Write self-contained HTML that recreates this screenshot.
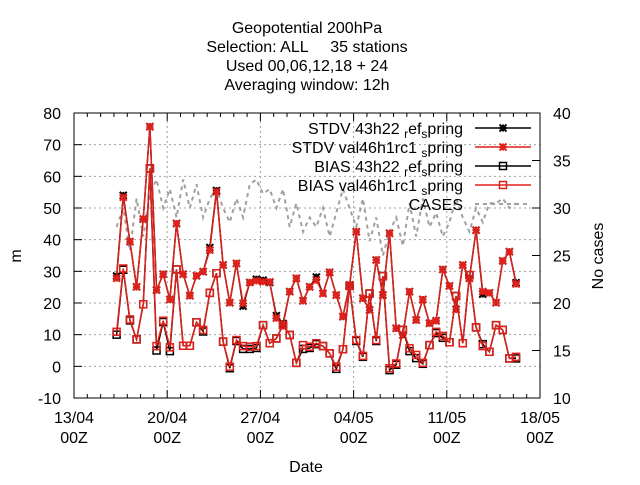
<!DOCTYPE html>
<html><head><meta charset="utf-8"><style>
body{margin:0;background:#fff}
svg text{font-family:"Liberation Sans",sans-serif;font-size:16px;fill:#000}
</style></head><body>
<svg id="chart" width="640" height="480" xmlns="http://www.w3.org/2000/svg">
<g id="grid"></g>
<g id="axes"></g>
<g id="series"></g>
<g id="legend"></g>
<text x="307" y="33" text-anchor="middle">Geopotential 200hPa</text>
<text x="307" y="52" text-anchor="middle" xml:space="preserve">Selection: ALL     35 stations</text>
<text x="307" y="71" text-anchor="middle">Used  00,06,12,18  + 24</text>
<text x="307" y="90" text-anchor="middle">Averaging window: 12h</text>
<text transform="translate(21,256) rotate(-90)" text-anchor="middle">m</text>
<text transform="translate(603,256) rotate(-90)" text-anchor="middle">No cases</text>
<text x="306" y="472" text-anchor="middle">Date</text>
</svg>
<script>
const xTickLabels=["13/04","20/04","27/04","04/05","11/05","18/05"];
const yTicks=[-10,0,10,20,30,40,50,60,70,80];
const y2Ticks=[10,15,20,25,30,35,40];
const tStart=3.2, tStep=0.5;
const stdvB=[28.5,54,39.4,25.1,46.5,75.7,24.1,29.1,21.1,45.1,29.1,22.3,28.6,29.9,37.5,55.5,32,20.1,32.5,19,26.5,27.5,27.2,26.5,16,13.5,23.6,27.8,20.7,25.1,28.2,23,29.7,22.5,15.7,25.7,42.5,21.5,17.8,33.6,22.5,42,12,9.9,23.6,14.6,21.1,13.6,14.4,30.6,25.4,18,32,27.8,43,22.8,23.2,20.1,33.3,36.2,26.4];
const stdvR=[27.8,53.4,39.4,25.1,46.5,75.7,24.1,29.1,21.1,45.1,29.1,22.3,28.6,29.9,36.7,55.1,32,20.1,32.5,19.9,26.5,27,26.7,26.7,15.2,13,23.6,27.8,20.7,25.1,27.2,23,29.7,22.5,15.7,25.7,42.5,21.5,17.8,33.6,22.5,42,12,9.9,23.6,14.6,21.1,13.6,14.4,30.6,25.4,18,32,27.8,43,23.6,23.2,20.1,33.3,36.2,26];
const biasB=[10,30.5,14.5,8.5,19.6,62.5,5,14,4.8,30.6,6.5,6.5,13.9,11,23.2,29.4,7.8,-0.6,8,5.5,5.5,5.8,13,7.3,8.8,13,9.9,1.1,5.5,5.8,7,6.4,4.1,-0.8,5.4,25.4,8,3,23,8,28.5,-1.2,0.5,11.5,4.8,2.6,0.8,6.7,10.5,9,7.6,22.2,7.3,28.8,12.3,7,4.6,13,11.5,2.5,2.5];
const biasR=[10.9,30.9,14.8,8.5,19.6,62.5,6.4,14.4,6,30.6,6.5,6.5,13.9,11.5,23.2,29.4,7.8,-0.1,8.3,6.4,6.2,6.4,13,7.3,8.8,13,9.9,1.1,6.7,6.2,7.3,6.4,4.1,-0.1,5.4,25.4,8.3,3.3,23,8.3,28.5,-0.6,0.9,11.5,5.7,3.6,1.1,6.7,10.9,9.6,7.6,22.2,7.3,28.8,12.3,6.4,4.6,13,11.5,2.5,3];
const cases=[28,30,25.5,31,27,31.5,33,30,32,29,33,30,32.5,29,31,32,30,28.5,31,29,32.5,33,31.5,32,30,32,28,30.5,27.5,29,28,30,27,29.5,32,30,28,31,26.5,29,25,27.5,29,26,30.5,27,31,28,29.5,27,28.5,31,29,27.5,30,28.5,30.5,30.5,31,30,30.5];
const X0=74,X1=540,Y0=398,Y1=113;
const xs=d=>X0+(X1-X0)*d/35;
const ys=v=>Y0-(Y0-Y1)*(v+10)/90;
const y2s=v=>Y0-(Y0-Y1)*(v-10)/30;
const NS="http://www.w3.org/2000/svg";
function mk(tag,attrs,parent){const e=document.createElementNS(NS,tag);for(const k in attrs)e.setAttribute(k,attrs[k]);parent.appendChild(e);return e;}
const grid=document.getElementById('grid'),axes=document.getElementById('axes'),ser=document.getElementById('series'),leg=document.getElementById('legend');
yTicks.forEach(v=>{const y=ys(v);
 if(v>-10&&v<80){const g=mk('line',{x1:X0,x2:X1,y1:y,y2:y,stroke:'#a0a0a0','stroke-dasharray':'2,3','stroke-width':1},grid);
 
 }
 const t=mk('line',{x1:X0,x2:X0+8,y1:y,y2:y,stroke:'#000'},axes);
 
 
 const l=mk('text',{x:X0-13,y:y+6,'text-anchor':'end'},axes);l.textContent=v;
 
 });
y2Ticks.forEach(v=>{const y=y2s(v);
 const t=mk('line',{x1:X1-8,x2:X1,y1:y,y2:y,stroke:'#000'},axes);
 
 
 const l=mk('text',{x:X1+13,y:y+6,'text-anchor':'start'},axes);l.textContent=v;
 
 });
for(let d=0;d<=35;d++){const x=xs(d);const major=d%7===0;const len=major?8:4;
 const a=mk('line',{x1:x,x2:x,y1:Y0,y2:Y0-len,stroke:'#000'},axes);
 
 
 const b=mk('line',{x1:x,x2:x,y1:Y1,y2:Y1+len,stroke:'#000'},axes);
 
 
 if(major){const i=d/7;
  if(i>0&&i<5){const g=mk('line',{x1:x,x2:x,y1:Y0,y2:Y1,stroke:'#a0a0a0','stroke-dasharray':'2,3'},grid);
  
  }
  const l=mk('text',{x:x,y:423,'text-anchor':'middle'},axes);l.textContent=xTickLabels[i];
  
  
  const l2=mk('text',{x:x,y:443,'text-anchor':'middle'},axes);l2.textContent='00Z';
  
  }}
const border=mk('rect',{x:X0,y:Y1,width:X1-X0,height:Y0-Y1,fill:'none',stroke:'#000'},axes);


function star(x,y,c,p){const s=3.5;mk('path',{d:`M${x-s},${y}H${x+s}M${x},${y-s}V${y+s}M${x-s},${y-s}L${x+s},${y+s}M${x-s},${y+s}L${x+s},${y-s}`,stroke:c,'stroke-width':2,fill:'none'},p);}
function box(x,y,c,p){mk('rect',{x:x-3.5,y:y-3.5,width:7,height:7,stroke:c,'stroke-width':1.5,fill:'none'},p);}
function drawSeries(vals,color,marker,name,yfun,dash){const g=mk('g',{},ser);
 
 
 const pts=vals.map((v,i)=>[xs(tStart+i*tStep),yfun(v)]);
 mk('polyline',{points:pts.map(p=>p.join(',')).join(' '),fill:'none',stroke:color,'stroke-width':dash?2:1.5,'stroke-dasharray':dash||'none'},g);
 if(marker)pts.forEach(p=>marker(p[0],p[1],color,g));}
drawSeries(cases,'#a0a0a0',null,'series-cases',y2s,'4,4');
drawSeries(stdvB,'#000',star,'series-stdv-43h22',ys);
drawSeries(stdvR,'#e0201a',star,'series-stdv-val46h1rc1',ys);
drawSeries(biasB,'#000',box,'series-bias-43h22',ys);
drawSeries(biasR,'#e0201a',box,'series-bias-val46h1rc1',ys);
const legItems=[["STDV 43h22","ref",'#000',star],["STDV val46h1rc1",null,'#e0201a',star],["BIAS 43h22","ref",'#000',box],["BIAS val46h1rc1",null,'#e0201a',box],["CASES",'none','#a0a0a0',null]];
legItems.forEach((it,i)=>{const y=128+i*19;const g=mk('g',{},leg);
 
 
 const t=mk('text',{x:463,y:y+6,'text-anchor':'end'},g);
 if(it[1]==='none'){t.textContent=it[0];}
 else{t.appendChild(document.createTextNode(it[0]+' '));
  if(it[1]==='ref'){const a=mk('tspan',{dy:4,'font-size':'12'},t);a.textContent='r';const b=mk('tspan',{dy:-4},t);b.textContent='ef';}
  const c=mk('tspan',{dy:4,'font-size':'12'},t);c.textContent='s';const d=mk('tspan',{dy:-4},t);d.textContent='pring';}
 if(it[3]){mk('line',{x1:475,x2:531,y1:y,y2:y,stroke:it[2],'stroke-width':1.5},g);it[3](503,y,it[2],g);}
 else mk('line',{x1:475,x2:531,y1:y,y2:y,stroke:it[2],'stroke-width':2,'stroke-dasharray':'4,4'},g);});
</script>
</body></html>
